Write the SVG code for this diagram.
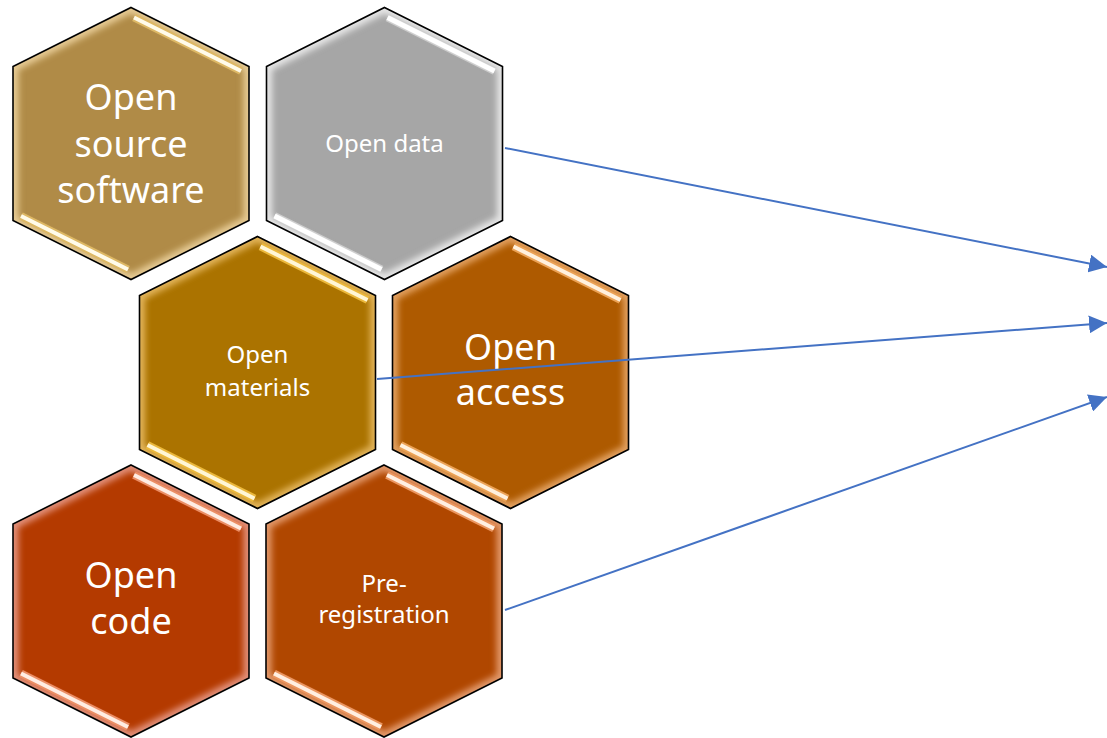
<svg xmlns="http://www.w3.org/2000/svg" xmlns:xlink="http://www.w3.org/1999/xlink" width="1107" height="738" viewBox="0 0 1107 738">
<style>
.lbl{font-family:"Noto Sans","Open Sans","Liberation Sans",sans-serif;fill:#ffffff;text-anchor:middle}
.big{font-size:36px}
.sm{font-size:24px}
.edge{fill:none;stroke:#000000;stroke-width:1.6;stroke-linejoin:miter}
.glow{fill:none;stroke-width:11}
.st{stroke-width:8;stroke-linecap:butt}
.hi{stroke-width:4;stroke-linecap:butt}
.conn{fill:none;stroke:#4472C4;stroke-width:2}
</style>
<defs>
<polygon id="hex" points="0,-136 118,-77 118,77 0,136 -118,77 -118,-77"/>
<clipPath id="hexclip"><use xlink:href="#hex"/></clipPath>
<filter id="blur" x="-20%" y="-20%" width="140%" height="140%"><feGaussianBlur stdDeviation="3"/></filter>
<path id="s1" d="M3,-126 L110,-72.5"/>
<path id="s2" d="M-3,126 L-110,72.5"/>
<marker id="arrow" viewBox="0 0 10 10" refX="10" refY="5" markerWidth="9" markerHeight="9" orient="auto" markerUnits="strokeWidth">
<path d="M0,0 L10,5 L0,10 z" fill="#4472C4"/>
</marker>
</defs>

<g id="node-open-source-software" transform="translate(131,143.5)">
<use xlink:href="#hex" fill="#B08B47"/>
<use xlink:href="#hex" class="glow" stroke="#E6CB94" clip-path="url(#hexclip)" filter="url(#blur)"/>
<g stroke="#DDB865" class="st"><use xlink:href="#s1"/><use xlink:href="#s2"/></g>
<g stroke="#FFFBEA" class="hi"><use xlink:href="#s1"/><use xlink:href="#s2"/></g>
<use xlink:href="#hex" class="edge"/>
<text class="lbl big" x="0" y="-33.5">Open</text>
<text class="lbl big" x="0" y="13.5">source</text>
<text class="lbl big" x="0" y="59.5">software</text>
</g>

<g id="node-open-data" transform="translate(384.5,143.5)">
<use xlink:href="#hex" fill="#A6A6A6"/>
<use xlink:href="#hex" class="glow" stroke="#E6E6E6" clip-path="url(#hexclip)" filter="url(#blur)"/>
<g stroke="#CFCFCF" class="st"><use xlink:href="#s1"/><use xlink:href="#s2"/></g>
<g stroke="#FFFFFF" class="hi" style="stroke-width:5"><use xlink:href="#s1"/><use xlink:href="#s2"/></g>
<use xlink:href="#hex" class="edge"/>
<text class="lbl sm" x="0" y="8.5">Open data</text>
</g>

<g id="node-open-materials" transform="translate(257.5,372.5)">
<use xlink:href="#hex" fill="#AB7300"/>
<use xlink:href="#hex" class="glow" stroke="#E2B45A" clip-path="url(#hexclip)" filter="url(#blur)"/>
<g stroke="#EBB83C" class="st"><use xlink:href="#s1"/><use xlink:href="#s2"/></g>
<g stroke="#FFF6D6" class="hi"><use xlink:href="#s1"/><use xlink:href="#s2"/></g>
<use xlink:href="#hex" class="edge"/>
<text class="lbl sm" x="0" y="-9.5">Open</text>
<text class="lbl sm" x="0" y="23.5">materials</text>
</g>

<g id="node-open-access" transform="translate(510.5,372.5)">
<use xlink:href="#hex" fill="#AE5A00"/>
<use xlink:href="#hex" class="glow" stroke="#E2A060" clip-path="url(#hexclip)" filter="url(#blur)"/>
<g stroke="#EBA256" class="st"><use xlink:href="#s1"/><use xlink:href="#s2"/></g>
<g stroke="#FFF1DE" class="hi"><use xlink:href="#s1"/><use xlink:href="#s2"/></g>
<use xlink:href="#hex" class="edge"/>
<text class="lbl big" x="0" y="-12.5">Open</text>
<text class="lbl big" x="0" y="32.5">access</text>
</g>

<g id="node-open-code" transform="translate(131,601)">
<use xlink:href="#hex" fill="#B43A00"/>
<use xlink:href="#hex" class="glow" stroke="#E2907A" clip-path="url(#hexclip)" filter="url(#blur)"/>
<g stroke="#EB8E66" class="st"><use xlink:href="#s1"/><use xlink:href="#s2"/></g>
<g stroke="#FFEDE4" class="hi"><use xlink:href="#s1"/><use xlink:href="#s2"/></g>
<use xlink:href="#hex" class="edge"/>
<text class="lbl big" x="0" y="-13">Open</text>
<text class="lbl big" x="0" y="33">code</text>
</g>

<g id="node-pre-registration" transform="translate(384,601)">
<use xlink:href="#hex" fill="#B04700"/>
<use xlink:href="#hex" class="glow" stroke="#E2986A" clip-path="url(#hexclip)" filter="url(#blur)"/>
<g stroke="#EB9660" class="st"><use xlink:href="#s1"/><use xlink:href="#s2"/></g>
<g stroke="#FFEFE2" class="hi"><use xlink:href="#s1"/><use xlink:href="#s2"/></g>
<use xlink:href="#hex" class="edge"/>
<text class="lbl sm" x="0" y="-9">Pre-</text>
<text class="lbl sm" x="0" y="22">registration</text>
</g>

<g id="connectors">
<line class="conn" x1="505" y1="148" x2="1107" y2="267" marker-end="url(#arrow)"/>
<line class="conn" x1="377" y1="379" x2="1107" y2="323" marker-end="url(#arrow)"/>
<line class="conn" x1="505" y1="610" x2="1107" y2="397" marker-end="url(#arrow)"/>
</g>
</svg>
